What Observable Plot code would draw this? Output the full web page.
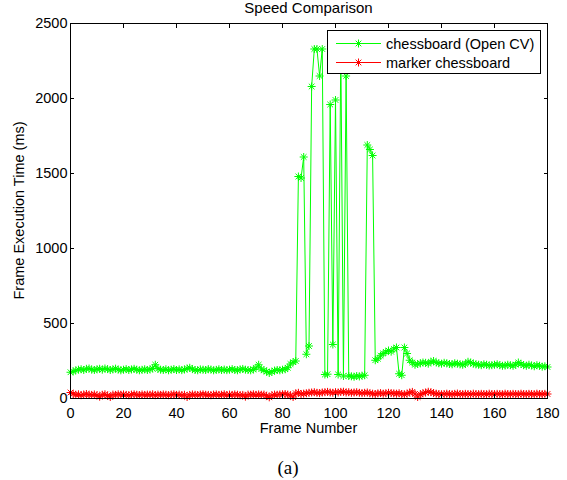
<!DOCTYPE html>
<html>
<head>
<meta charset="utf-8">
<script src="https://cdn.jsdelivr.net/npm/d3@7"></script>
<script src="https://cdn.jsdelivr.net/npm/@observablehq/plot@0.6"></script>
<style>
  html, body { margin: 0; padding: 0; background: #fff; }
  #chart svg { display: block; }
</style>
</head>
<body>
<div id="chart"></div>
<script>
// ---- data ----
const title = "Speed Comparison";
const xLabel = "Frame Number";
const yLabel = "Frame Execution Time (ms)";
const caption = "(a)";
const seriesNames = ["chessboard (Open CV)", "marker chessboard"];
const xTicks = [0, 20, 40, 60, 80, 100, 120, 140, 160, 180];
const yTicks = [0, 500, 1000, 1500, 2000, 2500];

// frame 0..180
const chessboardOpenCV = [
  175,180,188,192,195,190,198,200,193,190,
  195,198,192,200,196,190,194,199,193,188,
  192,196,190,194,198,192,188,191,195,190,
  194,200,225,198,192,190,195,188,192,196,
  190,194,189,193,200,205,196,190,188,194,
  192,190,196,193,188,191,195,190,193,189,
  192,196,190,188,194,197,192,190,188,193,
  205,225,196,188,180,170,178,186,190,188,
  192,195,205,230,
  242,250,1480,1470,1610,295,350,2080,2330,2330,
  2150,2330,160,162,1960,360,1990,160,2330,150,
  2150,150,148,145,150,147,152,155,1690,1660,
  1620,255,265,285,300,310,320,312,330,340,
  165,155,340,300,255,240,225,
  230,235,240,238,232,245,250,240,235,232,
  238,235,230,228,235,232,228,225,230,245,
  240,232,228,225,222,228,225,220,222,225,
  228,222,218,220,225,222,218,225,240,230,
  222,218,225,220,215,222,218,212,215,210
];

const markerChessboard = [
  40,30,25,28,22,26,30,25,24,27,
  22,12,25,28,20,10,26,24,28,25,
  27,24,22,26,28,25,23,27,24,26,
  25,28,22,26,24,27,25,22,26,28,
  24,26,22,25,10,24,27,25,23,26,
  28,25,24,22,26,27,24,25,28,23,
  26,24,27,25,22,24,12,26,25,28,
  24,27,25,26,18,8,22,26,25,27,
  28,30,26,22,10,35,38,30,32,35,
  38,40,42,38,36,40,42,44,40,38,
  42,40,44,45,40,42,38,40,42,38,
  36,38,40,35,32,30,34,36,32,35,
  38,36,34,32,35,30,28,32,40,44,
  30,10,28,35,40,45,42,36,32,30,
  28,30,32,30,28,31,33,30,29,31,
  30,28,32,30,29,31,30,28,32,30,
  29,31,30,28,32,30,29,31,30,28,
  32,30,29,31,30,28,32,30,29,31,30
];

const colors = ["#00ff00", "#ff0000"];

// ---- build table ----
const greenData = chessboardOpenCV.map((v, i) => ({frame: i, value: v}));
const redData = markerChessboard.map((v, i) => ({frame: i, value: v}));

// MATLAB-style asterisk marker (+ and x)
const asterisk = {
  draw(ctx, size) {
    const r = Math.sqrt(size / Math.PI);
    const d = r * 0.7071;
    ctx.moveTo(-r, 0); ctx.lineTo(r, 0);
    ctx.moveTo(0, -r); ctx.lineTo(0, r);
    ctx.moveTo(-d, -d); ctx.lineTo(d, d);
    ctx.moveTo(-d, d); ctx.lineTo(d, -d);
  }
};
const markerR = 4;

const W = 567, H = 480;
const mL = 70, mR = 20, mT = 23, mB = 82;
const font = "'Liberation Sans', Arial, Helvetica, sans-serif";

const svg = Plot.plot({
  width: W,
  height: H,
  marginLeft: mL,
  marginRight: mR,
  marginTop: mT,
  marginBottom: mB,
  style: {fontFamily: font, fontSize: "14px", background: "white", color: "black", overflow: "visible"},
  x: {domain: [0, 180]},
  y: {domain: [0, 2500]},
  marks: [
    Plot.line(greenData, {x: "frame", y: "value", stroke: colors[0], strokeWidth: 1}),
    Plot.dot(greenData, {x: "frame", y: "value", symbol: asterisk, r: markerR, stroke: colors[0], fill: "none", strokeWidth: 1}),
    Plot.line(redData, {x: "frame", y: "value", stroke: colors[1], strokeWidth: 1}),
    Plot.dot(redData, {x: "frame", y: "value", symbol: asterisk, r: markerR, stroke: colors[1], fill: "none", strokeWidth: 1}),
    Plot.frame({stroke: "black", strokeWidth: 1}),
    Plot.axisX({ticks: xTicks, tickSize: -4, tickPadding: 13, tickFormat: d3.format("d"), label: null, fontSize: 14.5}),
    Plot.axisX({anchor: "top", ticks: xTicks, tickSize: -4, tickFormat: () => "", label: null}),
    Plot.axisY({ticks: yTicks, tickSize: -4, tickPadding: 7, tickFormat: d3.format("d"), label: null, fontSize: 14.5}),
    Plot.axisY({anchor: "right", ticks: yTicks, tickSize: -4, tickFormat: () => "", label: null})
  ]
});

document.getElementById("chart").appendChild(svg);

// ---- texts & legend ----
const s = d3.select(svg);
const cx = (mL + (W - mR)) / 2;
const cy = (mT + (H - mB)) / 2;

s.append("text").attr("x", cx).attr("y", 13).attr("text-anchor", "middle")
  .attr("font-family", font).attr("font-size", 15).attr("fill", "black").text(title);
s.append("text").attr("x", cx).attr("y", 433).attr("text-anchor", "middle")
  .attr("font-family", font).attr("font-size", 14.5).attr("fill", "black").text(xLabel);
s.append("text").attr("transform", `translate(23.5,${cy}) rotate(-90)`).attr("text-anchor", "middle")
  .attr("font-family", font).attr("font-size", 14.5).attr("fill", "black").text(yLabel);
s.append("text").attr("x", 288).attr("y", 474).attr("text-anchor", "middle")
  .attr("font-family", "'Liberation Serif', 'Times New Roman', serif").attr("font-size", 19).attr("fill", "black").text(caption);

// legend
const lg = s.append("g").attr("text-anchor", "start");
lg.append("rect").attr("x", 327.5).attr("y", 30.5).attr("width", 213).attr("height", 43)
  .attr("fill", "white").attr("stroke", "black").attr("stroke-width", 1);
const markerPath = (() => {
  const p = d3.path();
  asterisk.draw(p, markerR * markerR * Math.PI);
  return p.toString();
})();
seriesNames.forEach((name, i) => {
  const yy = 43.5 + i * 19;
  lg.append("line").attr("x1", 336).attr("x2", 381).attr("y1", yy).attr("y2", yy)
    .attr("stroke", colors[i]).attr("stroke-width", 1);
  lg.append("path").attr("d", markerPath).attr("transform", `translate(358.5,${yy})`)
    .attr("stroke", colors[i]).attr("fill", "none").attr("stroke-width", 1);
  lg.append("text").attr("x", 386).attr("y", yy + 5).attr("text-anchor", "start").attr("font-family", font)
    .attr("font-size", 14.5).attr("fill", "black").text(name);
});
</script>
</body>
</html>
